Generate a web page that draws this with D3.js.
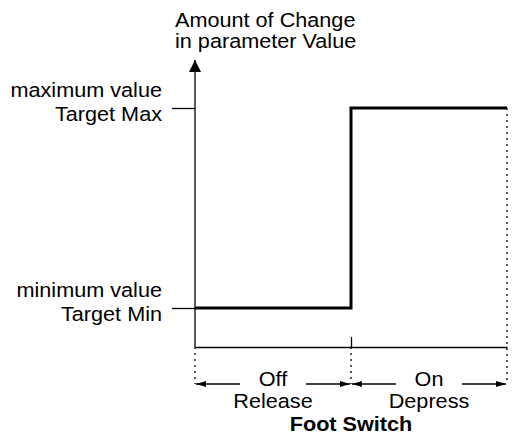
<!DOCTYPE html>
<html>
<head>
<meta charset="utf-8">
<script src="https://cdn.jsdelivr.net/npm/d3@7"></script>
<style>
  body { margin: 0; background: #fff; }
  text { font-family: "Liberation Sans", Arial, Helvetica, sans-serif; fill: #000; }
</style>
</head>
<body>
<div id="chart"></div>
<script>
// switch states along x, and the parameter level for each
var states = ["Off", "On"];
var stateActions = ["Release", "Depress"];
var stateLevels = [0, 1];            // 0 = target min, 1 = target max
var levelValues = [0, 1];
var levelLabels = [["minimum value", "Target Min"], ["maximum value", "Target Max"]];
var yTitle = ["Amount of Change", "in parameter Value"];
var xTitle = "Foot Switch";

var width = 517, height = 435;
var fs = 19.5, stretch = 1.11;   // glyphs in the picture are a bit wide

var svg = d3.select("#chart").append("svg")
  .attr("width", width)
  .attr("height", height);

var defs = svg.append("defs");
defs.append("marker")
  .attr("id", "head")
  .attr("viewBox", "0 0 10 10")
  .attr("refX", 10).attr("refY", 5)
  .attr("markerWidth", 10).attr("markerHeight", 10)
  .attr("markerUnits", "userSpaceOnUse")
  .attr("orient", "auto")
  .append("path").attr("d", "M0,2L10,5L0,8Z").attr("fill", "#000");
defs.append("marker")
  .attr("id", "bighead")
  .attr("viewBox", "0 0 12 12")
  .attr("refX", 12).attr("refY", 6)
  .attr("markerWidth", 12).attr("markerHeight", 12)
  .attr("markerUnits", "userSpaceOnUse")
  .attr("orient", "auto")
  .append("path").attr("d", "M0,0L12,6L0,12Z").attr("fill", "#000");

var x = d3.scaleLinear().domain([0, states.length]).range([195, 507]);
var y = d3.scaleLinear().domain([0, 1]).range([308, 108]);
var axisY = 347, arrowY = 384;

function txt(g, s, px, py, anchor, bold) {
  return g.append("text")
    .attr("transform", "translate(" + px + "," + py + ") scale(" + stretch + ",1)")
    .attr("text-anchor", anchor)
    .style("font-size", fs + "px")
    .style("font-weight", bold ? "bold" : "normal")
    .text(s);
}

// y axis ticks
var yAxis = d3.axisLeft(y).tickValues(levelValues).tickSize(23).tickFormat("");
var gy = svg.append("g").attr("transform", "translate(" + x(0) + ",0)").call(yAxis);
gy.select(".domain").remove();
gy.selectAll(".tick line").attr("stroke", "#000").attr("stroke-width", 1.3);

// y axis line with arrow
svg.append("line")
  .attr("x1", x(0)).attr("x2", x(0))
  .attr("y1", axisY).attr("y2", 60)
  .attr("stroke", "#000").attr("stroke-width", 1.3)
  .attr("marker-end", "url(#bighead)");

// level labels
levelValues.forEach(function(v, i) {
  txt(svg, levelLabels[i][0], 162, y(v) - 11, "end");
  txt(svg, levelLabels[i][1], 162, y(v) + 13, "end");
});

// y title
txt(svg, yTitle[0], 175, 27, "start");
txt(svg, yTitle[1], 175, 48, "start");

// x axis
var xAxis = d3.axisBottom(x).tickValues([1]).tickSizeInner(-10).tickSizeOuter(0).tickFormat("");
var gx = svg.append("g").attr("transform", "translate(0," + axisY + ")").call(xAxis);
gx.select(".domain").attr("stroke", "#000").attr("stroke-width", 1.3);
gx.selectAll(".tick line").attr("stroke", "#000").attr("stroke-width", 1.3);

// dotted guides
var bounds = d3.range(states.length + 1);
svg.selectAll(".guide").data(bounds).enter().append("line")
  .attr("class", "guide")
  .attr("x1", function(d) { return x(d); })
  .attr("x2", function(d) { return x(d); })
  .attr("y1", function(d) { return d === states.length ? y(1) : axisY; })
  .attr("y2", arrowY)
  .attr("stroke", "#000").attr("stroke-width", 1.3)
  .attr("stroke-dasharray", "2,4");

// step line
var stepPts = [];
stateLevels.forEach(function(l, i) {
  stepPts.push([x(i), y(levelValues[l])]);
  stepPts.push([x(i + 1), y(levelValues[l])]);
});
svg.append("path")
  .attr("d", d3.line()(stepPts))
  .attr("fill", "none")
  .attr("stroke", "#000")
  .attr("stroke-width", 3);

// state spans with arrows and labels
states.forEach(function(s, i) {
  var x0 = x(i), x1 = x(i + 1), cx = (x0 + x1) / 2;
  var gap = 33;
  svg.append("line")
    .attr("x1", cx - gap).attr("x2", x0 + 1)
    .attr("y1", arrowY).attr("y2", arrowY)
    .attr("stroke", "#000").attr("stroke-width", 1.3)
    .attr("marker-end", "url(#head)");
  svg.append("line")
    .attr("x1", cx + gap).attr("x2", x1 - 1)
    .attr("y1", arrowY).attr("y2", arrowY)
    .attr("stroke", "#000").attr("stroke-width", 1.3)
    .attr("marker-end", "url(#head)");
  txt(svg, s, cx, 386, "middle");
  txt(svg, stateActions[i], cx, 408, "middle");
});

// x title
txt(svg, xTitle, (x(0) + x(2)) / 2, 431, "middle", true);
</script>
</body>
</html>
